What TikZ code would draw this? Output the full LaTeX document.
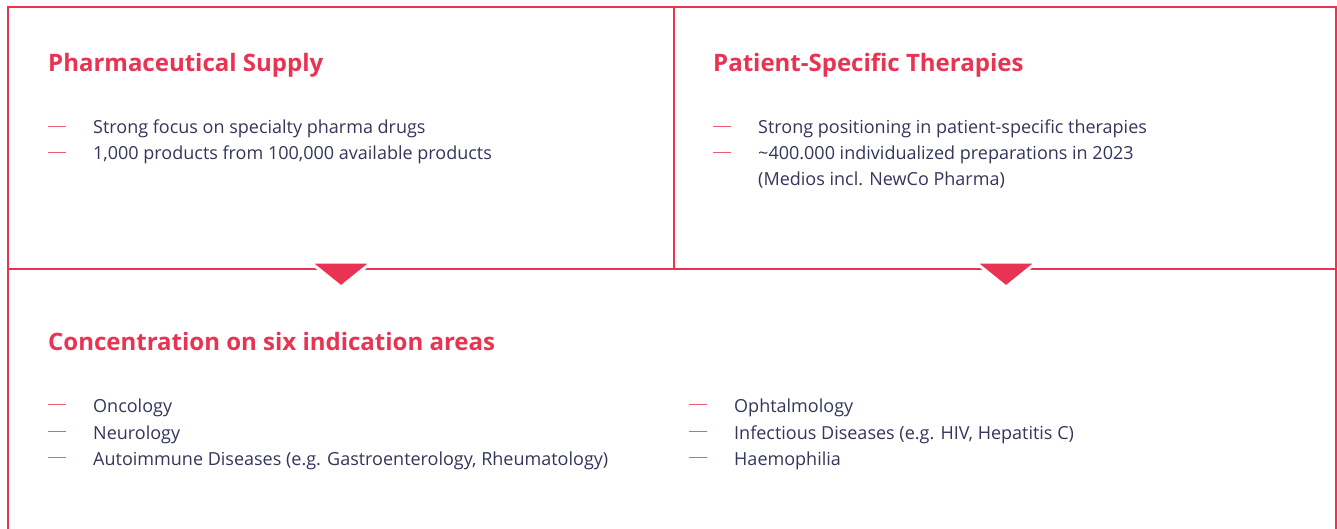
\documentclass[tikz,border=0pt]{standalone}
\usepackage{fontspec}
\setmainfont{Open Sans}
\usetikzlibrary{positioning}
\definecolor{medred}{HTML}{E83352}
\definecolor{medline}{HTML}{EE5B72}
\definecolor{medtext}{HTML}{33365A}

\begin{document}
\begin{tikzpicture}[x=1pt,y=-1pt,
        frame/.style={draw=medred,line width=2pt}]
      \tikzstyle{title} = [font=\fontsize{24}{28}\selectfont\bfseries,color=medred,anchor=base west,inner sep=0pt]
      \tikzstyle{item} = [font=\fontsize{18}{26}\selectfont,color=medtext,anchor=base west,inner sep=0pt]
      \tikzstyle{marker} = [draw=medline,line width=1.5pt]
      \tikzstyle{pointer} = [fill=medred,draw=white,line width=3pt,line join=miter]
      \useasboundingbox (0,0) rectangle (1337,529);
      % frame
      \coordinate (tl) at (8,7);
      \coordinate (tr) at (1336,7);
      \coordinate (bl) at (8,529);
      \coordinate (br) at (1336,529);
      \coordinate (ml) at (8,269);
      \coordinate (mr) at (1336,269);
      \coordinate (mt) at (674,7);
      \coordinate (mm) at (674,269);
      \draw[frame] (bl) -- (tl) -- (tr) -- (br);
      \draw[frame] (ml) -- (mr);
      \draw[frame] (mt) -- (mm);
      \filldraw[pointer] (310,262) -- (372,262) -- (341,287) -- cycle;
      \filldraw[pointer] (975,262) -- (1037,262) -- (1006,287) -- cycle;
      % top left
      \node (supply) [title] at (48,72) {Pharmaceutical Supply};
      \node (a1) [item] at (93,134) {Strong focus on specialty pharma drugs};
      \node (a2) [item] at (93,160) {1,000 products from 100,000 available products};
      % top right
      \node (therapies) [title] at (713,72) {Patient-Specific Therapies};
      \node (b1) [item] at (758,134) {Strong positioning in patient-specific therapies};
      \node (b2) [item] at (758,160) {\textasciitilde 400.000 individualized preparations in 2023};
      \node (b3) [item] at (758,186) {(Medios incl. NewCo Pharma)};
      % bottom
      \node (areas) [title] at (48,350) {Concentration on six indication areas};
      \node (c1) [item] at (93,412) {Oncology};
      \node (c2) [item] at (93,439) {Neurology};
      \node (c3) [item] at (93,465) {Autoimmune Diseases (e.g. Gastroenterology, Rheumatology)};
      \node (d1) [item] at (734,412) {Ophtalmology};
      \node (d2) [item] at (734,439) {Infectious Diseases (e.g. HIV, Hepatitis C)};
      \node (d3) [item] at (734,465) {Haemophilia};
      \foreach \n in {a1,a2,b1,b2,c1,c2,c3,d1,d2,d3}
        \draw[marker] ([xshift=-45pt,yshift=7.5pt]\n.base west) -- ++(18,0);
    \end{tikzpicture}
\end{document}
